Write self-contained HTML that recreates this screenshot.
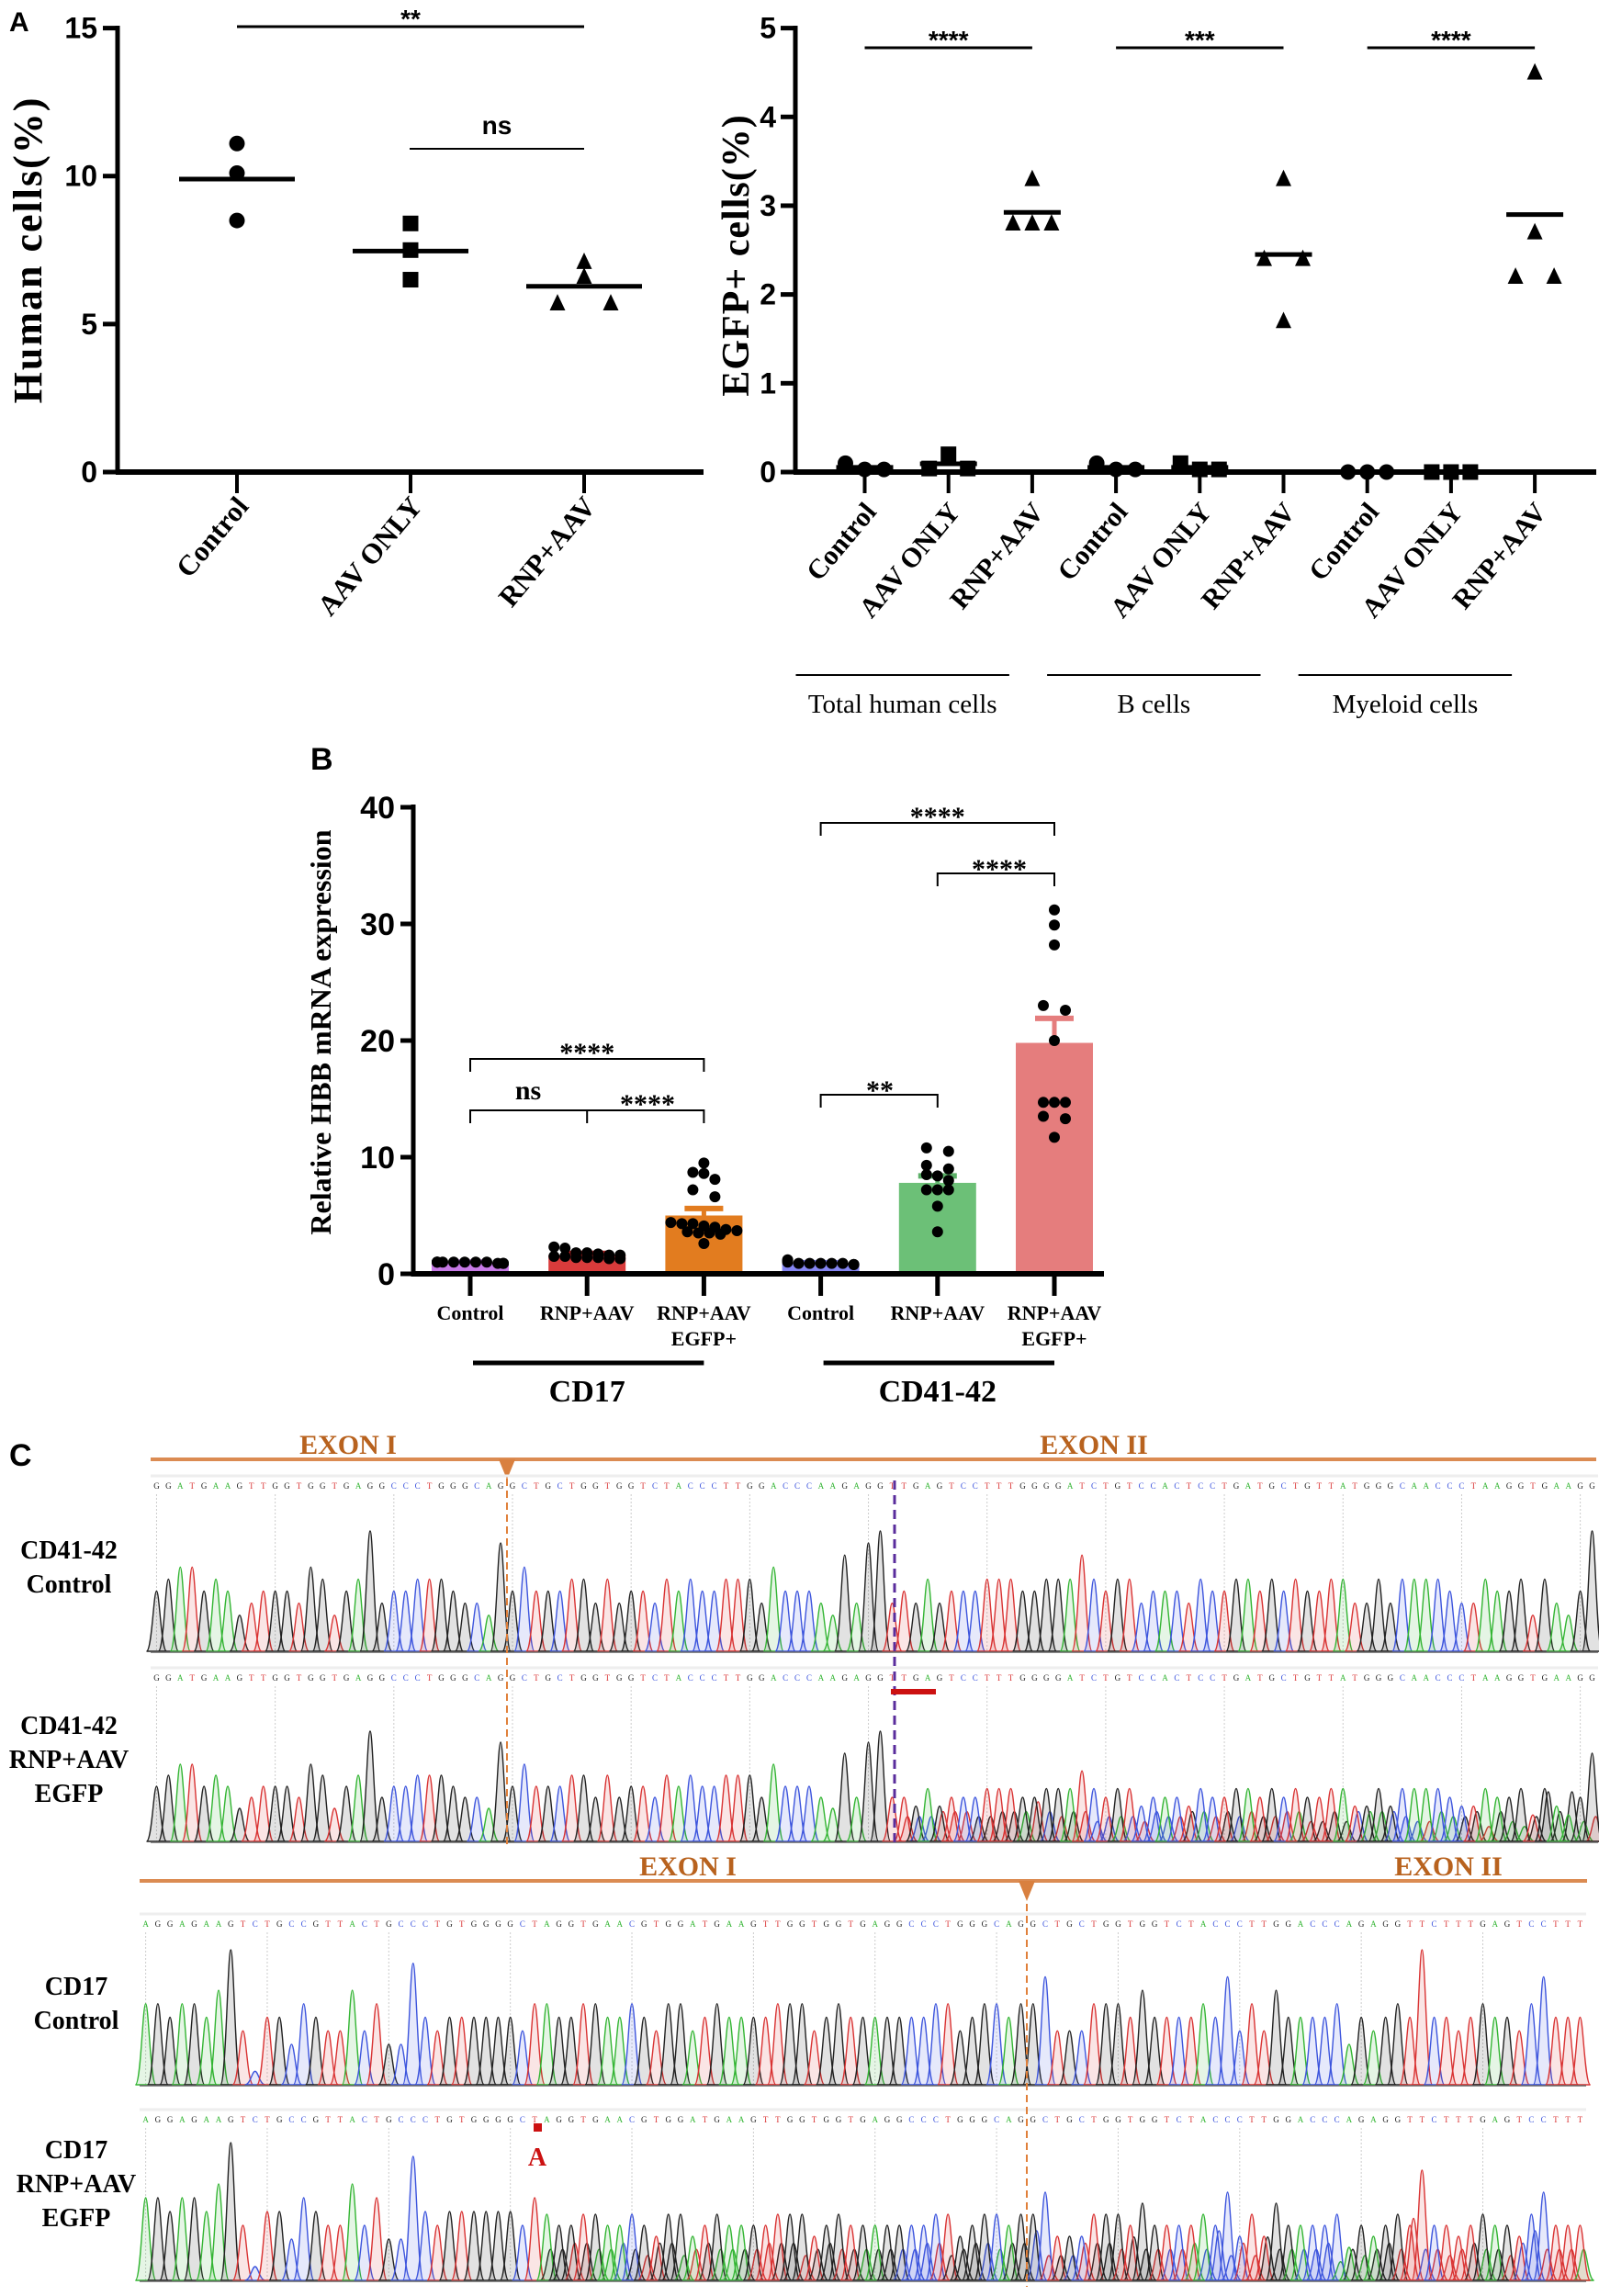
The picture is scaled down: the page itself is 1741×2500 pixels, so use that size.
<!DOCTYPE html>
<html><head><meta charset="utf-8"><style>
html,body{margin:0;padding:0;background:#fff}
svg{display:block}
.sans{font-family:"Liberation Sans Narrow","Liberation Sans",sans-serif;font-weight:bold}
.serif{font-family:"Liberation Serif",serif}
</style></head><body>
<svg id="fig" xmlns="http://www.w3.org/2000/svg" width="1741" height="2500" viewBox="0 0 1741 2500">
<rect x="0" y="0" width="1741" height="2500" fill="#fff"/>
</svg>
<script>
// ---------- Panel A left data ----------
const aLeftCats = ["Control","AAV ONLY","RNP+AAV"];
const aLeftVals = [[11.1,10.1,8.5],[8.4,7.5,6.5],[7.1,6.6,5.7,5.7]];
const aLeftTicks = [0,5,10,15];
// ---------- Panel A right data ----------
const aRightCats = ["Control","AAV ONLY","RNP+AAV","Control","AAV ONLY","RNP+AAV","Control","AAV ONLY","RNP+AAV"];
const aRightGroups = ["Total human cells","B cells","Myeloid cells"];
const aRightVals = [[0.03,0.1,0.03],[0.2,0.04,0.04],[3.3,2.8,2.8,2.8],[0.03,0.1,0.03],[0.03,0.1,0.03],[3.3,2.4,2.4,1.7],[0,0,0],[0,0,0],[4.5,2.7,2.2,2.2]];
const aRightTicks = [0,1,2,3,4,5];
// ---------- Panel B data ----------
const bCats = ["Control","RNP+AAV","RNP+AAV|EGFP+","Control","RNP+AAV","RNP+AAV|EGFP+"];
const bMeans = [0.95,1.6,5.0,0.9,7.8,19.8];
const bSem = [0.05,0.15,0.6,0.05,0.6,2.1];
const bPoints = [
 [1,1,1,0.9,1,0.9,1,0.9,1,1,0.9,1],
 [1.8,1.6,1.7,1.4,1.3,1.5,2.3,1.3,1.5,1.6,2.2,1.4,1.8,1.4],
 [9.5,8.7,8.6,8.1,7.2,6.6,4.3,4.3,4.4,4.1,3.6,3.5,3.7,3.4,2.6,3.8,4.0,3.5],
 [1.2,1.0,1.1,0.8,0.9,0.8,0.9,0.8,0.9,0.9,0.9],
 [10.8,10.5,9.3,9.0,8.5,8.4,7.2,7.2,7.2,5.8,3.6,8.0],
 [31.2,29.9,28.2,23.0,22.6,20.0,14.7,14.7,14.7,13.5,13.3,11.7]];
const bTicks = [0,10,20,30,40];
// ---------- Panel C sequences ----------
const seqA = "GGATGAAGTTGGTGGTGAGGCCCTGGGCAGGCTGCTGGTGGTCTACCCTTGGACCCAAGAGGTTGAGTCCTTTGGGGATCTGTCCACTCCTGATGCTGTTATGGGCAACCCTAAGGTGAAGG";
const heightsA = "45664542344436524593445554332846444553534435454455536444327389343534445554455575455344435445545454455335355554335445253249593";
const seqB = "AGGAGAAGTCTGCCGTTACTGCCCTGTGGGGCTAGGTGAACGTGGATGAAGTTGGTGGTGAGGCCCTGGGCAGGCTGCTGGTGGTCTACCCTTGGACCCAGAGGTTCTTTGAGTCCTTT";
const heightsB = "55455469304425433635228434444443554455445435534544445553454444444553455455733355546444454735364444524345494434544357444445";

const svg = document.getElementById('fig');
const NS = "http://www.w3.org/2000/svg";
function mk(tag, attrs, parent){const e=document.createElementNS(NS,tag);for(const k in attrs)e.setAttribute(k,attrs[k]);(parent||svg).appendChild(e);return e;}
function grp(){return mk('g',{});}
function txt(s,attrs,parent){const e=mk('text',attrs,parent);e.textContent=s;return e;}
function swarm(vals,yf,sp,tol){
  const idx=vals.map((v,i)=>i).sort((a,b)=>vals[b]-vals[a]);
  const off=new Array(vals.length).fill(0);let i=0;
  while(i<idx.length){let j=i;while(j+1<idx.length&&Math.abs(yf(vals[idx[j+1]])-yf(vals[idx[i]]))<tol)j++;
    const n=j-i+1;for(let k=0;k<n;k++){off[idx[i+k]]=(n===2)?(k===0?-sp:sp):(k-(n-1)/2)*sp;}i=j+1;}
  return off;}
function marker(kind,x,y,s,parent){
  let e;
  if(kind===0)e=mk('circle',{cx:x,cy:y,r:s/2,fill:'#000'},parent);
  else if(kind===1)e=mk('rect',{x:x-s/2,y:y-s/2,width:s,height:s,fill:'#000'},parent);
  else e=mk('polygon',{points:`${x},${y-s*0.6} ${x-s*0.5},${y+s*0.45} ${x+s*0.5},${y+s*0.45}`,fill:'#000'},parent);
  return e;}

// ======== Panel A label ========
let t=txt("A",{x:10,y:34,'font-size':30,class:'sans'});



// ======== Panel A left ========
const gL=grp();


const yL=v=>514-v*(514-30.6)/15;
const xL=i=>258+i*189;
let e=mk('line',{x1:128,y1:28,x2:128,y2:516,stroke:'#000','stroke-width':5},gL);


e=mk('line',{x1:126,y1:514,x2:766,y2:514,stroke:'#000','stroke-width':6},gL);


aLeftTicks.forEach(v=>{
  const tk=mk('line',{x1:112,y1:yL(v),x2:128,y2:yL(v),stroke:'#000','stroke-width':5},gL);
  
  
  const l=txt(String(v),{x:106,y:yL(v)+11,'font-size':32,'text-anchor':'end',class:'sans'},gL);
  
  
});
t=txt("Human cells(%)",{x:0,y:0,'font-size':44,'letter-spacing':2,'font-weight':'bold','text-anchor':'middle',class:'serif',transform:'translate(45,272) rotate(-90)'},gL);


aLeftCats.forEach((c,i)=>{
  const x=xL(i);
  const tk=mk('line',{x1:x,y1:514,x2:x,y2:537,stroke:'#000','stroke-width':4},gL);
  
  
  const l=txt(c,{x:0,y:0,'font-size':31,'font-weight':'bold','text-anchor':'end',class:'serif',transform:`translate(${x+14},${552}) rotate(-50)`},gL);
  
  
  const vals=aLeftVals[i];
  const off=swarm(vals,yL,29,12);
  vals.forEach((v,k)=>{const m=marker(i,x+off[k],yL(v),17,gL);
    
    });
  const mean=vals.reduce((a,b)=>a+b,0)/vals.length;
  const ml=mk('line',{x1:x-63,y1:yL(mean),x2:x+63,y2:yL(mean),stroke:'#000','stroke-width':5},gL);
  
  
});
e=mk('line',{x1:258,y1:29,x2:636,y2:29,stroke:'#000','stroke-width':3},gL);


t=txt("**",{x:447,y:30,'font-size':28,'text-anchor':'middle',class:'sans'},gL);


e=mk('line',{x1:446,y1:162,x2:636,y2:162,stroke:'#000','stroke-width':2},gL);


t=txt("ns",{x:541,y:146,'font-size':28,'text-anchor':'middle',class:'sans','font-weight':'normal'},gL);



// ======== Panel A right ========
const gR=grp();


const yR=v=>514-v*(514-30.6)/5;
const xR=i=>941.5+i*91.2;
e=mk('line',{x1:866,y1:28,x2:866,y2:516,stroke:'#000','stroke-width':5},gR);


e=mk('line',{x1:864,y1:514,x2:1738,y2:514,stroke:'#000','stroke-width':6},gR);


aRightTicks.forEach(v=>{
  const tk=mk('line',{x1:850,y1:yR(v),x2:866,y2:yR(v),stroke:'#000','stroke-width':5},gR);
  
  
  const l=txt(String(v),{x:845,y:yR(v)+11,'font-size':32,'text-anchor':'end',class:'sans'},gR);
  
  
});
t=txt("EGFP+ cells(%)",{x:0,y:0,'font-size':42,'letter-spacing':1,'font-weight':'bold','text-anchor':'middle',class:'serif',transform:'translate(815,278) rotate(-90)'},gR);


aRightCats.forEach((c,i)=>{
  const x=xR(i);
  const tk=mk('line',{x1:x,y1:514,x2:x,y2:537,stroke:'#000','stroke-width':4},gR);
  
  
  const l=txt(c,{x:0,y:0,'font-size':30,'font-weight':'bold','text-anchor':'end',class:'serif',transform:`translate(${x+14},${558}) rotate(-50)`},gR);
  
  
  const vals=aRightVals[i];
  const off=swarm(vals,yR,21,12);
  vals.forEach((v,k)=>{const m=marker(i%3,x+off[k],yR(v),17,gR);
    
    });
  const mean=vals.reduce((a,b)=>a+b,0)/vals.length;
  const ml=mk('line',{x1:x-31,y1:yR(mean),x2:x+31,y2:yR(mean),stroke:'#000','stroke-width':5},gR);
  
  
});
const sigR=["****","***","****"];
aRightGroups.forEach((g,j)=>{
  const x1=xR(j*3),x2=xR(j*3+2);
  const sl=mk('line',{x1:x1,y1:52,x2:x2,y2:52,stroke:'#000','stroke-width':3},gR);
  
  
  const st=txt(sigR[j],{x:(x1+x2)/2,y:53,'font-size':28,'text-anchor':'middle',class:'sans'},gR);
  
  
  const gl=mk('line',{x1:x1-75,y1:735,x2:x2-25,y2:735,stroke:'#000','stroke-width':2},gR);
  
  
  const gt=txt(g,{x:(x1-75+x2-25)/2,y:776,'font-size':29,'text-anchor':'middle',class:'serif'},gR);
  
  
});

// ======== Panel B ========
const gB=grp();


const yB=v=>1387-v*12.7;
const xB=i=>512+i*127.2;
const bColors=['#c77ae6','#d93b3b','#e27c1f','#8585f2','#6cc077','#e57d7d'];
const bErr=['#c77ae6','#b32222','#e27c1f','#8585f2','#5cb068','#e57d7d'];
t=txt("B",{x:338,y:838,'font-size':34,class:'sans','font-family':'Liberation Sans'},gB);


bCats.forEach((c,i)=>{
  const x=xB(i);
  const bar=mk('rect',{x:x-42,y:yB(bMeans[i]),width:84,height:yB(0)-yB(bMeans[i]),fill:bColors[i]},gB);
  
  
  const top=bMeans[i]+bSem[i];
  const eb=mk('line',{x1:x,y1:yB(bMeans[i]),x2:x,y2:yB(top),stroke:bErr[i],'stroke-width':5},gB);
  
  
  const cap=mk('line',{x1:x-21,y1:yB(top),x2:x+21,y2:yB(top),stroke:bErr[i],'stroke-width':6},gB);
  
  
  const vals=bPoints[i];
  const off=swarm(vals,yB,12,9);
  vals.forEach((v,k)=>{
    const o=Math.max(-36,Math.min(36,off[k]));
    const p=mk('circle',{cx:x+o,cy:yB(v),r:6,fill:'#000'},gB);
    
    });
  const tk=mk('line',{x1:x,y1:1387,x2:x,y2:1411,stroke:'#000','stroke-width':5},gB);
  
  
  c.split('|').forEach((ln,k)=>{
    const l=txt(ln,{x:x,y:1437+k*28,'font-size':22,'font-weight':'bold','text-anchor':'middle',class:'serif'},gB);
    
    });
});
e=mk('line',{x1:450,y1:876,x2:450,y2:1390,stroke:'#000','stroke-width':5},gB);


e=mk('line',{x1:448,y1:1387,x2:1202,y2:1387,stroke:'#000','stroke-width':6},gB);


bTicks.forEach(v=>{
  const tk=mk('line',{x1:436,y1:yB(v),x2:450,y2:yB(v),stroke:'#000','stroke-width':5},gB);
  
  
  const l=txt(String(v),{x:430,y:yB(v)+12,'font-size':34,'text-anchor':'end',class:'sans'},gB);
  
  });
t=txt("Relative HBB mRNA expression",{x:0,y:0,'font-size':32,'font-weight':'bold','text-anchor':'middle',class:'serif',transform:'translate(360,1124) rotate(-90)'},gB);


function bracket(i1,i2,y,label,mid){
  const x1=xB(i1),x2=xB(i2);
  const p=mk('path',{d:`M${x1},${y+14} V${y} H${x2} V${y+14}`+(mid!==undefined?` M${xB(mid)},${y} V${y+14}`:''),fill:'none',stroke:'#000','stroke-width':2},gB);
  
  }
function slabel(s,x,y){const l=txt(s,{x:x,y:y,'font-size':30,'font-weight':'bold','text-anchor':'middle',class:'serif'},gB);
  
  }
bracket(0,2,1153);slabel("****",xB(1),1156);
bracket(0,2,1209,null,1);slabel("ns",575,1197);slabel("****",705,1212);
bracket(3,5,896);slabel("****",xB(4),899);
bracket(4,5,951);slabel("****",1088,956);
bracket(3,4,1192);slabel("**",958,1197);
[[0,2,"CD17"],[3,5,"CD41-42"]].forEach(g=>{
  const gl=mk('line',{x1:xB(g[0])+3,y1:1484,x2:xB(g[1]),y2:1484,stroke:'#000','stroke-width':5},gB);
  
  
  const gt=txt(g[2],{x:xB(g[0]+1),y:1526,'font-size':34,'font-weight':'bold','text-anchor':'middle',class:'serif'},gB);
  
  });

// ======== Panel C ========
const gC=grp();


const baseCol={G:'#222',A:'#33b533',T:'#d93333',C:'#3d55dd'};
t=txt("C",{x:10,y:1596,'font-size':34,class:'sans','font-family':'Liberation Sans'},gC);


function trace(seq,hs,x0,x1,seqY,base,H,name,mix){
  const g=mk('g',{},gC);
  
  
  const n=seq.length, sp=(x1-x0)/n;
  mk('line',{x1:x0,y1:seqY-14,x2:x1,y2:seqY-14,stroke:'#eee','stroke-width':3},g);
  for(let i=0;i<n;i+=10){const X=x0+(i+0.5)*sp;mk('line',{x1:X,y1:seqY+6,x2:X,y2:base,stroke:'#ccc','stroke-width':1,'stroke-dasharray':'2,2'},g);}
  function peak(ch,X,h,sc){
    const w=sp*0.85,c=baseCol[ch]||'#222',ht=h*H*sc;
    mk('path',{d:`M${X-w},${base} C${X-w*0.45},${base} ${X-w*0.3},${base-ht} ${X},${base-ht} C${X+w*0.3},${base-ht} ${X+w*0.45},${base} ${X+w},${base} Z`,fill:c,'fill-opacity':0.13,stroke:c,'stroke-width':1.4},g);}
  for(let i=0;i<n;i++){
    const ch=seq[i],X=x0+(i+0.5)*sp,h=(parseInt(hs[i%hs.length])+1)/10;
    txt(ch,{x:X,y:seqY,'font-size':9,'text-anchor':'middle',fill:baseCol[ch],class:'serif'},g);
    let sc=1;
    if(mix&&i>=mix.from){sc=0.8;const ch2=seq[(i+mix.shift)%n];peak(ch2,X+sp*0.3,(parseInt(hs[(i+mix.shift)%hs.length])+1)/10,0.45);}
    peak(ch,X,h,sc);
  }
  mk('line',{x1:x0,y1:base+1,x2:x1,y2:base+1,stroke:'#666','stroke-width':1.5},g);
  return g;}
function exonLine(y,x0,x1,tri,labels){
  const l=mk('line',{x1:x0,y1:y,x2:x1,y2:y,stroke:'#db8b52','stroke-width':4},gC);
  
  
  const p=mk('polygon',{points:`${tri-9},${y} ${tri+9},${y} ${tri},${y+22}`,fill:'#d9803f'},gC);
  
  
  labels.forEach(a=>{const t2=txt(a[0],{x:a[1],y:y-6,'font-size':30,'font-weight':'bold','text-anchor':'middle',fill:'#b8621e',class:'serif'},gC);
    
    });}
exonLine(1589,164,1738,552,[["EXON I",379],["EXON II",1191]]);
trace(seqA,heightsA,164,1740,1621,1798,131,'cd41-control-trace',null);
trace(seqA,heightsA,164,1740,1830,2005,120,'cd41-edited-trace',{from:63,shift:4});
e=mk('line',{x1:552,y1:1610,x2:552,y2:2010,stroke:'#e0803a','stroke-width':2,'stroke-dasharray':'8,5'},gC);


e=mk('line',{x1:974,y1:1612,x2:974,y2:2008,stroke:'#5a2d9c','stroke-width':3,'stroke-dasharray':'10,6'},gC);


e=mk('rect',{x:970,y:1839,width:49,height:6,fill:'#cc1111'},gC);


exonLine(2048,152,1728,1118,[["EXON I",749],["EXON II",1577]]);
trace(seqB,heightsB,152,1727,2098,2270,147,'cd17-control-trace',null);
trace(seqB,heightsB,152,1727,2311,2483,150,'cd17-edited-trace',{from:33,shift:1});
e=mk('line',{x1:1118,y1:2073,x2:1118,y2:2490,stroke:'#e0803a','stroke-width':2,'stroke-dasharray':'8,5'},gC);


e=mk('rect',{x:581,y:2312,width:9,height:9,fill:'#cc1111'},gC);


t=txt("A",{x:585,y:2358,'font-size':28,'font-weight':'bold','text-anchor':'middle',fill:'#cc1111',class:'serif'},gC);


[[["CD41-42","Control"],75,1697],[["CD41-42","RNP+AAV","EGFP"],75,1888],[["CD17","Control"],83,2172],[["CD17","RNP+AAV","EGFP"],83,2350]].forEach(r=>{
  r[0].forEach((s,k)=>{const l=txt(s,{x:r[1],y:r[2]+k*37,'font-size':28,'font-weight':'bold','text-anchor':'middle',class:'serif'},gC);
    
    });});
</script>
</body></html>
